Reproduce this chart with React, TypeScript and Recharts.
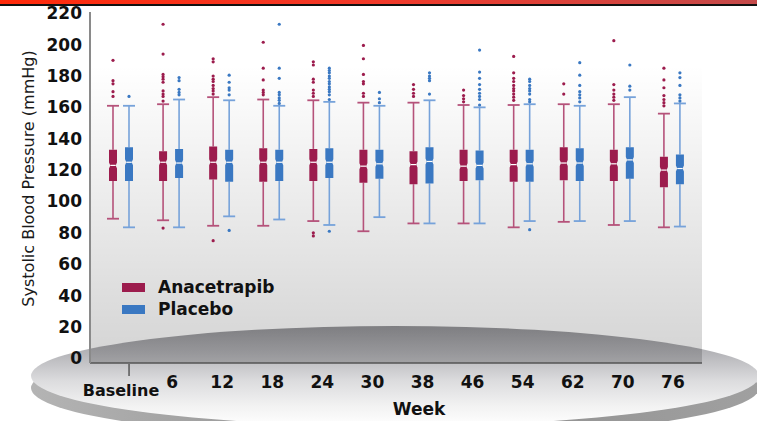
import React from "react";
import { ComposedChart, Bar, XAxis, YAxis, Legend } from "recharts";

const weeks = ["Baseline", "6", "12", "18", "24", "30", "38", "46", "54", "62", "70", "76"];

// Anacetrapib: whisker ends, quartiles, median, outliers
const anaLow = [89, 88, 84.5, 84.5, 87.5, 81, 86, 86, 83.5, 87, 85, 83.5];
const anaQ1 = [113, 113, 114, 112.5, 113, 112, 111, 113, 112.5, 113.5, 113, 109];
const anaMed = [123, 125, 125, 125, 125, 122.5, 123.5, 122.5, 123.5, 124.5, 124, 120];
const anaQ3 = [133, 132, 135, 134, 133.5, 133, 132, 133, 133, 134.5, 133, 128.5];
const anaHigh = [161, 162, 166.5, 165, 164.5, 163, 163, 161.5, 161.5, 162, 162, 156];
const anaOut = [
  [190, 177, 175, 170, 167],
  [213, 194, 181, 179.5, 178, 176, 170.5, 168.5, 167, 164, 83],
  [191, 189, 180, 178, 176.5, 174, 172, 170.5, 168.5, 75],
  [201.5, 185, 177.5, 171, 169.5, 168],
  [189, 187, 178, 176, 171, 169, 167, 80, 78],
  [199.5, 191, 181, 176.5, 175, 169, 167],
  [174.5, 171.5, 169, 167],
  [171, 167.5, 165.5, 163.5],
  [192.5, 182, 178.5, 176.5, 174, 172, 170.5, 168.5, 166.5, 164.5],
  [175, 168.5],
  [202.5, 174.5, 171, 168.5, 166.5, 164.5],
  [185, 177.5, 172.5, 167.5, 165, 163, 161],
];

// Placebo
const plaLow = [83.5, 83.5, 90.5, 88.5, 85, 90, 86, 86, 87.5, 87.5, 87.5, 84];
const plaQ1 = [113, 115, 112.5, 113, 115, 114.5, 111.5, 113.5, 112.5, 113, 114.5, 111];
const plaMed = [125, 124.5, 125, 125, 125, 124, 125.5, 123, 124, 124.5, 126.5, 121];
const plaQ3 = [134.5, 133.5, 133, 133, 134, 133, 134.5, 132.5, 133, 134, 134.5, 130];
const plaHigh = [161, 165, 164.5, 161, 163.5, 161, 164.5, 160, 162, 161, 166.5, 162.5];
const plaOut = [
  [167],
  [179, 177, 171.5, 169.5, 168],
  [180.5, 176, 172.5, 171, 168, 81.5],
  [213, 185, 178.5, 169.5, 168, 166, 164.5, 162.5],
  [185, 183.5, 182, 180, 178.5, 176.5, 175, 173, 171.5, 170, 168, 165, 81],
  [169.5, 165.5, 163],
  [182, 180, 178.5, 177, 168.5],
  [196.5, 182.5, 178.5, 174.5, 171.5, 169, 167, 165, 161.5],
  [178, 176.5, 174, 172, 170.5, 168.5, 165, 163.5, 82],
  [188.5, 180.5, 174, 170, 168, 166, 163.5],
  [187, 173.5, 171],
  [182, 179, 174, 168, 166, 164],
];

const yTicks = [0, 20, 40, 60, 80, 100, 120, 140, 160, 180, 200, 220];

const RED = "#9c1c4d";
const RED_WHISKER = "#b5527a";
const BLUE = "#3a78c2";
const BLUE_WHISKER = "#76a2da";
const FONT = "DejaVu Sans, sans-serif";

const rows = weeks.map((week, i) => ({
  week,
  aBox: [anaQ1[i], anaQ3[i]],
  aLow: anaLow[i],
  aMed: anaMed[i],
  aHigh: anaHigh[i],
  aOut: anaOut[i],
  pBox: [plaQ1[i], plaQ3[i]],
  pLow: plaLow[i],
  pMed: plaMed[i],
  pHigh: plaHigh[i],
  pOut: plaOut[i],
}));

// box + whiskers + outliers, positioned from the bar's own q1..q3 geometry
function boxShape(key: string, fill: string, whisker: string) {
  return (props: any) => {
    const { x, y, width, height, payload } = props;
    const [q1, q3] = payload[key + "Box"];
    const top = Math.min(y, y + height);
    const bot = Math.max(y, y + height);
    const k = (bot - top) / (q3 - q1);
    const py = (v: number) => bot - (v - q1) * k;
    const cx = x + width / 2;
    const m = py(payload[key + "Med"]);
    const hi = py(payload[key + "High"]);
    const lo = py(payload[key + "Low"]);
    const r = x + width;
    const n = 1.3;
    const box = `M${x},${top} L${r},${top} L${r},${m - 3} L${r - n},${m} L${r},${m + 3} L${r},${bot} L${x},${bot} L${x},${m + 3} L${x + n},${m} L${x},${m - 3} Z`;
    return (
      <g>
        <line x1={cx} x2={cx} y1={hi} y2={top} stroke={whisker} strokeWidth={1.6} />
        <line x1={cx} x2={cx} y1={bot} y2={lo} stroke={whisker} strokeWidth={1.6} />
        <line x1={cx - 6} x2={cx + 6} y1={hi} y2={hi} stroke={whisker} strokeWidth={1.8} />
        <line x1={cx - 6} x2={cx + 6} y1={lo} y2={lo} stroke={whisker} strokeWidth={1.8} />
        <path d={box} fill={fill} />
        <line x1={x + n} x2={r - n} y1={m} y2={m} stroke="#ffffff" strokeWidth={1.2} />
        {(payload[key + "Out"] as number[]).map((v, j) => (
          <circle key={j} cx={cx} cy={py(v)} r={1.6} fill={fill} />
        ))}
      </g>
    );
  };
}

const WeekTick = (props: any) => {
  const { x, y, payload } = props;
  if (payload.value === "Baseline") {
    return (
      <g>
        <line x1={x + 8} x2={x + 8} y1={y + 1} y2={y + 13} stroke="#444" strokeWidth={1.3} />
        <text x={x} y={y + 27} textAnchor="middle" dominantBaseline="central"
          fill="#111" fontSize={16} fontWeight={700} fontFamily={FONT}>
          Baseline
        </text>
      </g>
    );
  }
  return (
    <text x={x + 1} y={y + 19} textAnchor="middle" dominantBaseline="central"
      fill="#111" fontSize={17} fontWeight={700} fontFamily={FONT}>
      {payload.value}
    </text>
  );
};

const yLabel = (p: any) => {
  const vb = p.viewBox ?? { x: 0, y: 12, width: 90, height: 351 };
  const cx = vb.x + 28;
  const cy = vb.y + vb.height / 2 - 9;
  return (
    <text x={cx} y={cy} transform={`rotate(-90, ${cx}, ${cy})`} textAnchor="middle"
      dominantBaseline="central" fill="#1a1a1a" fontSize={16} fontFamily={FONT}>
      Systolic Blood Pressure (mmHg)
    </text>
  );
};

const renderLegend = (props: any) => (
  <div>
    {(props.payload || []).map((item: any) => (
      <div key={item.value} style={{ display: "flex", alignItems: "center", height: 22 }}>
        <span style={{ display: "inline-block", width: 23, height: 9, background: item.color, marginRight: 13 }} />
        <span style={{ fontFamily: FONT, fontWeight: 700, fontSize: 17, color: "#111" }}>{item.value}</span>
      </div>
    ))}
  </div>
);

export default function App() {
  return (
    <div style={{ position: "relative", width: 757, height: 421, overflow: "hidden", background: "#fff" }}>
      <style>{"body{margin:0;overflow:hidden}"}</style>
      <svg width={757} height={421} style={{ position: "absolute", left: 0, top: 0 }}>
        <defs>
          <linearGradient id="disc" x1="0" y1="0" x2="0" y2="1">
            <stop offset="0" stopColor="#949498" />
            <stop offset="0.25" stopColor="#b2b2b6" />
            <stop offset="0.55" stopColor="#dcdcde" />
            <stop offset="0.8" stopColor="#f2f2f2" />
            <stop offset="1" stopColor="#ffffff" />
          </linearGradient>
          <linearGradient id="rim" x1="0" y1="0" x2="1" y2="0">
            <stop offset="0" stopColor="#b4b4b4" />
            <stop offset="0.5" stopColor="#8c8c8c" />
            <stop offset="1" stopColor="#a0a0a0" />
          </linearGradient>
          <linearGradient id="plotBg" x1="0" y1="0" x2="0" y2="1">
            <stop offset="0" stopColor="#000" stopOpacity={0} />
            <stop offset="0.15" stopColor="#000" stopOpacity={0} />
            <stop offset="1" stopColor="#000" stopOpacity={0.17} />
          </linearGradient>
        </defs>
        <ellipse cx={395} cy={388} rx={364} ry={50} fill="url(#rim)" />
        <ellipse cx={395} cy={376} rx={364} ry={50} fill="url(#disc)" />
        <rect x={90} y={12} width={612} height={351} fill="url(#plotBg)" />
      </svg>
      <div style={{ position: "absolute", left: 0, top: 0 }}>
        <ComposedChart width={757} height={421} data={rows}
          margin={{ top: 12, right: 55, bottom: 0, left: 0 }} barSize={8} barGap={8}>
          <XAxis dataKey="week" height={58} padding={{ left: 6, right: 5 }}
            axisLine={{ stroke: "#555", strokeWidth: 1.5 }} tickLine={false}
            tickSize={0} tickMargin={0} interval={0} tick={<WeekTick />}
            label={{ value: "Week", position: "insideBottom", offset: 6, dx: 23,
              fill: "#111", fontSize: 17, fontWeight: 700, fontFamily: FONT }} />
          <YAxis type="number" width={90} domain={[-3, 220.8]} ticks={yTicks} allowDataOverflow
            axisLine={{ stroke: "#8a8a8a", strokeWidth: 2 }} tickLine={false}
            tick={{ fill: "#111", fontSize: 17, fontWeight: 700, fontFamily: FONT }}
            label={yLabel} />
          <Legend layout="vertical" align="center" verticalAlign="middle"
            wrapperStyle={{ left: 122, top: 276, width: 200 }} content={renderLegend} />
          <Bar dataKey="aBox" name="Anacetrapib" fill={RED} isAnimationActive={false}
            shape={boxShape("a", RED, RED_WHISKER)} />
          <Bar dataKey="pBox" name="Placebo" fill={BLUE} isAnimationActive={false}
            shape={boxShape("p", BLUE, BLUE_WHISKER)} />
        </ComposedChart>
      </div>
      <div style={{ position: "absolute", left: 0, top: 0, width: 757, height: 4,
        background: "linear-gradient(90deg, #ff2a0a 0%, #f23a2a 50%, #c44a4a 100%)",
        borderBottom: "2px solid #111" }} />
    </div>
  );
}
